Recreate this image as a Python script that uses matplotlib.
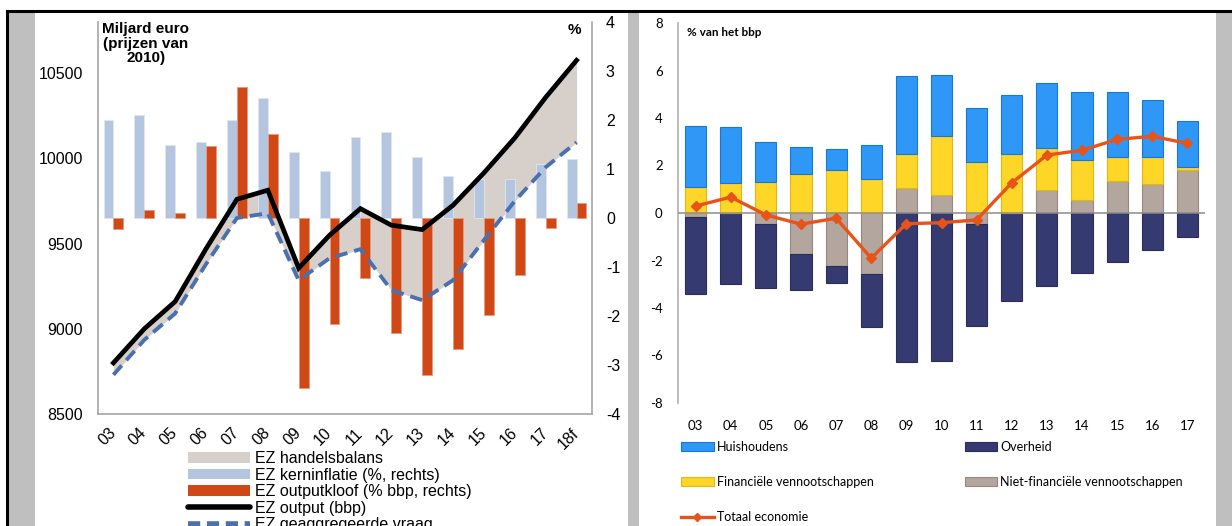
import matplotlib
matplotlib.use("Agg")
import matplotlib.pyplot as plt
import numpy as np
from matplotlib.patches import Rectangle, Patch
from matplotlib.lines import Line2D

# ---- left panel data ----
years_l = ['03', '04', '05', '06', '07', '08', '09', '10', '11', '12', '13', '14', '15', '16', '17', '18f']
output_bbp = [8800, 9000, 9160, 9470, 9760, 9813, 9356, 9549, 9705, 9608, 9582, 9725, 9915, 10120, 10358, 10575]
vraag = [8730, 8935, 9090, 9380, 9650, 9678, 9285, 9414, 9467, 9227, 9168, 9285, 9520, 9750, 9948, 10094]
kerninflatie = [2.0, 2.1, 1.5, 1.55, 2.0, 2.45, 1.35, 0.95, 1.65, 1.75, 1.25, 0.85, 0.8, 0.8, 1.1, 1.2]
outputkloof = [-0.23, 0.16, 0.1, 1.47, 2.67, 1.71, -3.47, -2.16, -1.22, -2.35, -3.2, -2.67, -1.98, -1.16, -0.2, 0.3]

# ---- right panel data ----
years_r = ['03', '04', '05', '06', '07', '08', '09', '10', '11', '12', '13', '14', '15', '16', '17']
huish = [2.56, 2.35, 1.7, 1.15, 0.88, 1.4, 3.28, 2.57, 2.27, 2.49, 2.73, 2.86, 2.76, 2.43, 1.93]
fin = [1.1, 1.27, 1.3, 1.63, 1.82, 1.45, 1.42, 2.47, 2.15, 2.48, 1.76, 1.68, 1.0, 1.13, 0.14]
nietfin = [-0.17, 0.0, -0.46, -1.72, -2.24, -2.58, 1.07, 0.77, -0.45, 0.0, 0.98, 0.56, 1.34, 1.21, 1.8]
overheid = [-3.24, -2.99, -2.69, -1.53, -0.71, -2.22, -6.28, -6.23, -4.3, -3.7, -3.09, -2.53, -2.07, -1.57, -1.0]
totaal = [0.29, 0.67, -0.08, -0.47, -0.22, -1.9, -0.45, -0.41, -0.29, 1.27, 2.44, 2.64, 3.1, 3.23, 2.93]

W, H = 1232, 526
fig = plt.figure(figsize=(W / 100, H / 100), dpi=100)
fig.patch.set_facecolor('white')

def fx(px):
    return px / W

def fy(py):
    return 1 - py / H

# frame decoration: grey strips and black lines
for x0, x1 in [(8, 35), (628, 639), (1216, 1232)]:
    fig.add_artist(Rectangle((fx(x0), 0), fx(x1 - x0), fy(11), transform=fig.transFigure,
                             facecolor='#bfbfbf', edgecolor='none', zorder=0))
fig.add_artist(Line2D([fx(7), 1], [fy(10.5), fy(10.5)], transform=fig.transFigure, color='black', lw=2.2))
fig.add_artist(Line2D([fx(7), fx(7)], [0, fy(10.5)], transform=fig.transFigure, color='black', lw=2.2))

# ================= left panel =================
lfont = 'Liberation Sans'
x = np.arange(len(years_l))
ax_fill = fig.add_axes([fx(98), fy(414), fx(592 - 98), (414 - 22) / H])
ax_bar = ax_fill.twinx()
ax_line = ax_fill.twinx()

ax_fill.fill_between(x, vraag, output_bbp, color='#d7cfc9', lw=0)
ax_fill.set_ylim(8500, 10800)
ax_fill.set_xlim(-0.5, len(years_l) - 0.5)
ax_fill.set_yticks([8500, 9000, 9500, 10000, 10500])
ax_fill.set_yticklabels(['8500', '9000', '9500', '10000', '10500'], fontsize=11.5, family=lfont)
ax_fill.tick_params(axis='y', length=0, pad=11)
ax_fill.set_xticks(x)
ax_fill.set_xticklabels(years_l, rotation=45, ha='right', va='center', rotation_mode='anchor',
                        fontsize=11.5, family=lfont)
ax_fill.tick_params(axis='x', length=0, pad=12)

bw = 0.32
ax_bar.bar(x - bw / 2, kerninflatie, width=bw, color='#b4c6df', edgecolor='#dfe6f1', lw=0.6)
ax_bar.bar(x + bw / 2, outputkloof, width=bw, color='#cf4816', edgecolor='#e89a7c', lw=0.6)
ax_bar.set_ylim(-4, 4)
ax_bar.set_yticks(range(-4, 5))
ax_bar.set_yticklabels([str(v) for v in range(-4, 5)], fontsize=11.5, family=lfont)
ax_bar.tick_params(axis='y', length=0, pad=10)

ax_line.plot(x, output_bbp, color='black', lw=3.4, solid_joinstyle='miter')
ax_line.plot(x, vraag, color='#4a70ae', lw=2.8, dashes=(3.2, 1.8))
ax_line.set_ylim(8500, 10800)
ax_line.set_yticks([])

for a in (ax_fill, ax_bar, ax_line):
    for s in a.spines.values():
        s.set_visible(False)
ax_fill.spines['left'].set_visible(True)
ax_fill.spines['bottom'].set_visible(True)
ax_bar.spines['right'].set_visible(True)
for s in (ax_fill.spines['left'], ax_fill.spines['bottom'], ax_bar.spines['right']):
    s.set_color('#a6a6a6')
    s.set_linewidth(1.2)

fig.text(fx(146), fy(22), 'Miljard euro\n(prijzen van\n2010)', ha='center', va='top',
         fontsize=11, fontweight='bold', family=lfont, linespacing=1.05)
fig.text(fx(574), fy(30), '%', ha='center', va='center', fontsize=11, fontweight='bold', family=lfont)

handles_l = [
    Patch(facecolor='#d7cfc9', edgecolor='none'),
    Patch(facecolor='#b4c6df', edgecolor='none'),
    Patch(facecolor='#cf4816', edgecolor='none'),
    Line2D([], [], color='black', lw=4, solid_capstyle='round'),
    Line2D([], [], color='#4a70ae', lw=4, dashes=(2.2, 1.2)),
]
labels_l = ['EZ handelsbalans', 'EZ kerninflatie (%, rechts)', 'EZ outputkloof (% bbp, rechts)',
            'EZ output (bbp)', 'EZ geaggregeerde vraag']
fig.legend(handles_l, labels_l, loc='upper left', bbox_to_anchor=(fx(188), fy(451)),
           frameon=False, prop={'family': lfont, 'size': 11.5}, handlelength=3.9,
           handleheight=0.65, handletextpad=0.3, labelspacing=0.1, borderpad=0, borderaxespad=0)

# ================= right panel =================
rfont = 'Lato'
xr = np.arange(len(years_r))
ax_r = fig.add_axes([fx(678), fy(403), fx(1205 - 678), (403 - 23) / H])

nf = np.array(nietfin)
nf_pos = np.clip(nf, 0, None)
nf_neg = np.clip(nf, None, 0)
fin_a = np.array(fin)

c_huis, e_huis = '#2f97f6', '#1678d6'
c_fin, e_fin = '#fed628', '#e3b712'
c_nf, e_nf = '#b2a69e', '#9a877c'
c_ov, e_ov = '#353a70', '#2a2d58'

rw = 0.6
ax_r.bar(xr, nf, width=rw, color=c_nf, edgecolor=e_nf, lw=0.8, zorder=2)
ax_r.bar(xr, overheid, width=rw, bottom=nf_neg, color=c_ov, edgecolor=e_ov, lw=0.8, zorder=2)
ax_r.bar(xr, fin, width=rw, bottom=nf_pos, color=c_fin, edgecolor=e_fin, lw=0.8, zorder=2)
ax_r.bar(xr, huish, width=rw, bottom=nf_pos + fin_a, color=c_huis, edgecolor=e_huis, lw=0.8, zorder=2)
ax_r.axhline(0, color='#8c8c8c', lw=1.1, zorder=3)
ax_r.plot(xr, totaal, color='#e8531a', lw=2.4, marker='D', markersize=5.5, zorder=4)

ax_r.set_xlim(-0.5, len(years_r) - 0.5)
ax_r.set_ylim(-8, 8)
ax_r.set_yticks(range(-8, 9, 2))
ax_r.set_yticklabels([str(v) for v in range(-8, 9, 2)], fontsize=9.5, family=rfont)
ax_r.set_xticks(xr)
ax_r.set_xticklabels(years_r, fontsize=9.5, family=rfont)
ax_r.tick_params(axis='both', length=0)
ax_r.tick_params(axis='y', pad=11)
ax_r.tick_params(axis='x', pad=12)
for k, s in ax_r.spines.items():
    s.set_visible(k == 'left')
ax_r.spines['left'].set_color('#b0b0b0')
ax_r.spines['left'].set_linewidth(1.2)

fig.text(fx(687), fy(33), '% van het bbp', ha='left', va='center', fontsize=8.5,
         fontweight='bold', family=rfont)

handles_r = [
    Patch(facecolor=c_huis, edgecolor=e_huis, lw=0.8),
    Patch(facecolor=c_fin, edgecolor=e_fin, lw=0.8),
    Line2D([], [], color='#e8531a', lw=2.4, marker='D', markersize=4.5),
    Patch(facecolor=c_ov, edgecolor=e_ov, lw=0.8),
    Patch(facecolor=c_nf, edgecolor=e_nf, lw=0.8),
]
labels_r = ['Huishoudens', 'Financiële vennootschappen', 'Totaal economie', 'Overheid',
            'Niet-financiële vennootschappen']
fig.legend(handles_r, labels_r, loc='upper left', bbox_to_anchor=(fx(681), fy(441)), ncol=2,
           frameon=False, prop={'family': rfont, 'size': 9}, handlelength=2.6, handleheight=0.75,
           handletextpad=0.25, labelspacing=1.85, columnspacing=7.3, borderpad=0, borderaxespad=0)

fig.savefig('out.png', dpi=100, facecolor='white')
